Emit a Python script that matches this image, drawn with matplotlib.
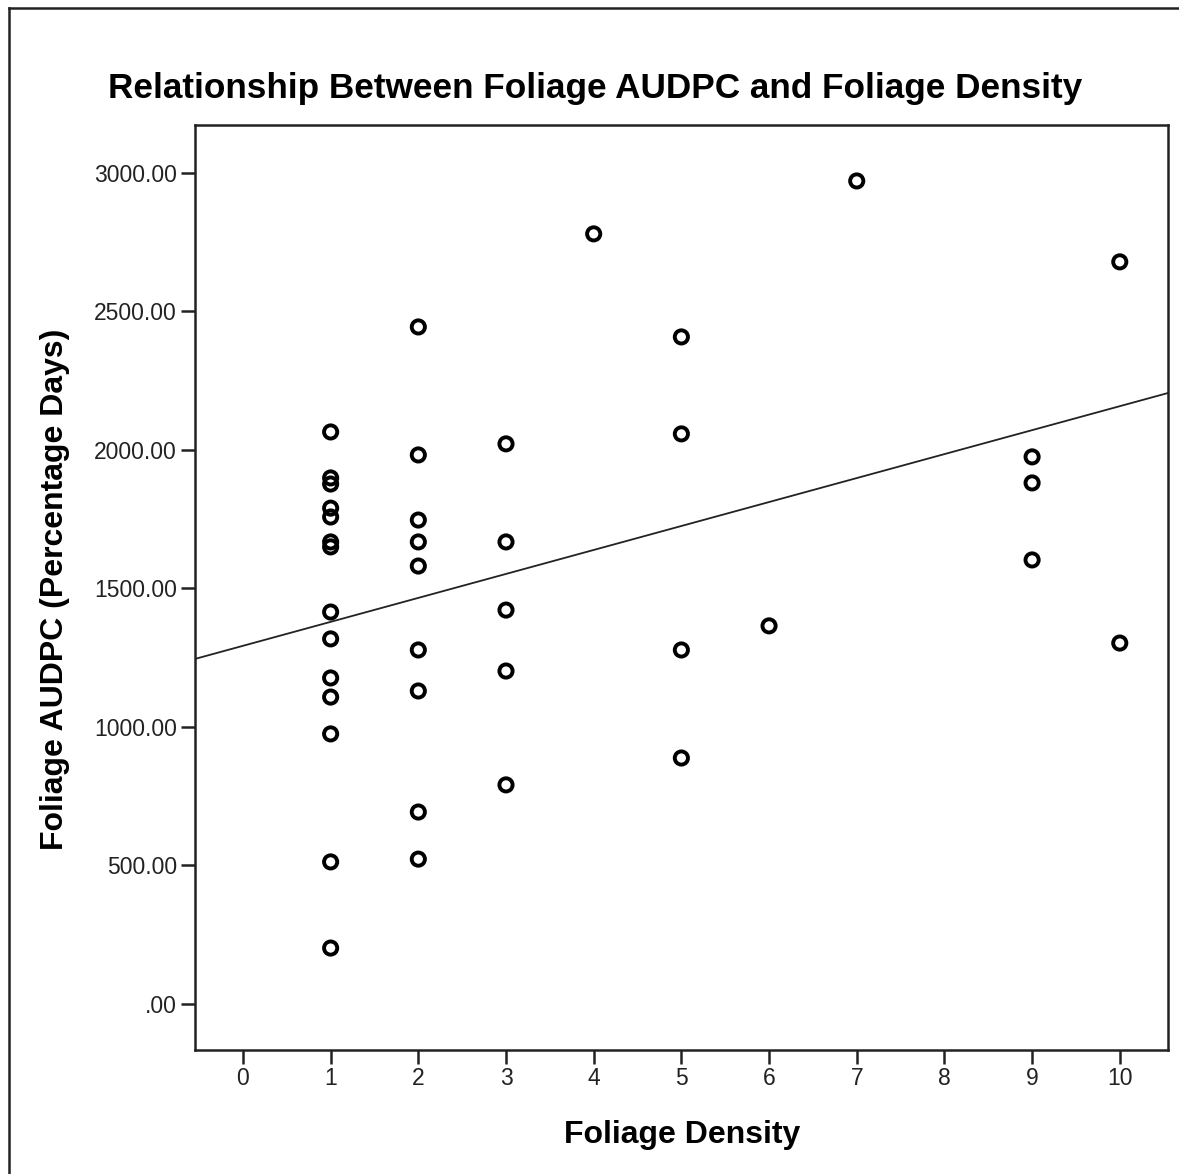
import numpy as np
import matplotlib
matplotlib.use("Agg")
import matplotlib.pyplot as plt
from matplotlib.lines import Line2D
from matplotlib.ticker import FuncFormatter

plt.rcParams['font.family'] = ['Liberation Sans', 'DejaVu Sans']

# Foliage density score and foliage AUDPC (percentage days) per plot
density_1 = [1] * 14
audpc_1 = [2065, 1899, 1877, 1790, 1758, 1668, 1650, 1415, 1318, 1177, 1108, 975, 513, 202]
density_2 = [2] * 9
audpc_2 = [2444, 1982, 1747, 1668, 1581, 1278, 1130, 693, 523]
density_3 = [3] * 5
audpc_3 = [2022, 1668, 1422, 1202, 791]
density_other = [4, 5, 5, 5, 5, 6, 7, 9, 9, 9, 10, 10]
audpc_other = [2780, 2408, 2058, 1278, 888, 1365, 2971, 1975, 1881, 1603, 2679, 1303]

# Linear fit line (AUDPC = intercept + slope * density)
fit_intercept = 1293.0
fit_slope = 86.5

x_ticks = list(range(0, 11))
y_ticks = [0, 500, 1000, 1500, 2000, 2500, 3000]

density = np.array(density_1 + density_2 + density_3 + density_other, dtype=float)
audpc = np.array(audpc_1 + audpc_2 + audpc_3 + audpc_other, dtype=float)

W, H = 1179, 1174
fig = plt.figure(figsize=(W / 100, H / 100), dpi=100)
ax_l, ax_r, ax_t, ax_b = 195, 1168, 125, 1050
ax = fig.add_axes([ax_l / W, 1 - ax_b / H, (ax_r - ax_l) / W, (ax_b - ax_t) / H])

xlim = (-0.547, 10.55)
ylim = (-166, 3173)
ax.set_xlim(*xlim)
ax.set_ylim(*ylim)

ax.scatter(density, audpc, s=90, facecolors='none', edgecolors='black',
           linewidths=2.8, zorder=3)

xs = np.array(xlim)
ax.plot(xs, fit_intercept + fit_slope * xs, color='#222222', lw=1.3, zorder=2)

ax.set_xticks(x_ticks)
ax.set_yticks(y_ticks)
ax.yaxis.set_major_formatter(FuncFormatter(
    lambda v, p: '.00' if v == 0 else f'{v:.2f}'))
ax.tick_params(axis='both', direction='out', length=10, width=1.8,
               labelsize=16.5, colors='#222222')
ax.tick_params(axis='x', pad=2.5)
ax.tick_params(axis='y', pad=3)
for sp in ax.spines.values():
    sp.set_linewidth(1.8)
    sp.set_color('#222222')

ax.set_xlabel('Foliage Density', fontsize=23, fontweight='bold', va='baseline')
ax.xaxis.set_label_coords(0.501, (ax_b - 1143) / (ax_b - ax_t))
ax.set_ylabel('Foliage AUDPC (Percentage Days)', fontsize=23,
              fontweight='bold', va='baseline', ha='center')
ax.yaxis.set_label_coords((63 - ax_l) / (ax_r - ax_l), 0.498)

fig.text(595 / W, 1 - 98 / H,
         'Relationship Between Foliage AUDPC and Foliage Density',
         ha='center', va='baseline', fontsize=25.3, fontweight='bold')

# Outer frame (left and top edges)
fig.add_artist(Line2D([9 / W, 9 / W], [0, 1 - 8 / H], transform=fig.transFigure,
                      color='#222222', lw=1.8))
fig.add_artist(Line2D([9 / W, 1], [1 - 8 / H, 1 - 8 / H], transform=fig.transFigure,
                      color='#222222', lw=1.8))

fig.savefig('out.png', dpi=100)
